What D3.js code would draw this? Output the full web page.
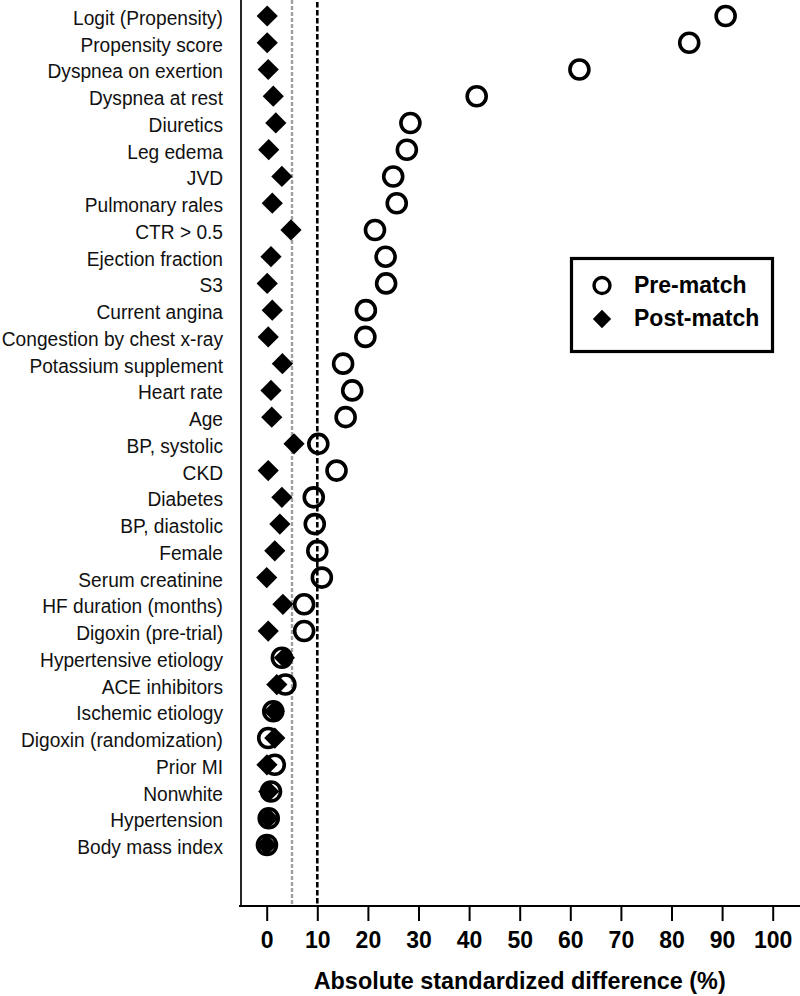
<!DOCTYPE html>
<html>
<head>
<meta charset="utf-8">
<script src="https://cdn.jsdelivr.net/npm/d3@7"></script>
<style>
  html, body { margin: 0; padding: 0; background: #fff; }
  svg { display: block; font-family: "Liberation Sans", Arial, Helvetica, sans-serif; }
</style>
</head>
<body>
<svg id="chart" width="800" height="996"></svg>
<script>
const categories = [
  "Logit (Propensity)", "Propensity score", "Dyspnea on exertion", "Dyspnea at rest",
  "Diuretics", "Leg edema", "JVD", "Pulmonary rales", "CTR > 0.5", "Ejection fraction",
  "S3", "Current angina", "Congestion by chest x-ray", "Potassium supplement",
  "Heart rate", "Age", "BP, systolic", "CKD", "Diabetes", "BP, diastolic", "Female",
  "Serum creatinine", "HF duration (months)", "Digoxin (pre-trial)",
  "Hypertensive etiology", "ACE inhibitors", "Ischemic etiology",
  "Digoxin (randomization)", "Prior MI", "Nonwhite", "Hypertension", "Body mass index"
];
const preMatch = [90.7, 83.5, 61.8, 41.5, 28.4, 27.7, 25.0, 25.7, 21.4, 23.5, 23.6, 19.6,
  19.5, 15.1, 16.9, 15.6, 10.2, 13.8, 9.3, 9.5, 10.0, 10.9, 7.4, 7.4, 3.0, 3.7, 1.3, 0.3,
  1.6, 0.85, 0.4, 0.05];
const postMatch = [0.1, 0.1, 0.3, 1.3, 1.8, 0.4, 3.0, 1.1, 4.8, 0.85, 0.1, 1.1, 0.3, 3.1,
  0.85, 1.0, 5.4, 0.3, 3.0, 2.6, 1.6, 0.0, 3.2, 0.3, 3.5, 2.0, 1.5, 1.6, 0.05, 0.4, 0.3, 0.0];
const xTicks = [0, 10, 20, 30, 40, 50, 60, 70, 80, 90, 100];
const refLines = [5, 10];
const legendItems = ["Pre-match", "Post-match"];
const xTitle = "Absolute standardized difference (%)";

const svg = d3.select("#chart");
const x = d3.scaleLinear().domain([0, 100]).range([266.7, 772.7]);
const y = d3.scalePoint().domain(categories).range([16, 845]).padding(0);
const axisY = 906;
const axisX = 241;

// reference lines
svg.append("line").attr("x1", x(refLines[0])).attr("x2", x(refLines[0]))
  .attr("y1", 0).attr("y2", axisY)
  .attr("stroke", "#a0a0a0").attr("stroke-width", 2.4).attr("stroke-dasharray", "4,2");
svg.append("line").attr("x1", x(refLines[1])).attr("x2", x(refLines[1]))
  .attr("y1", 2).attr("y2", axisY)
  .attr("stroke", "#000").attr("stroke-width", 2.6).attr("stroke-dasharray", "5.5,2.5");

// y axis line
svg.append("line").attr("x1", axisX).attr("x2", axisX).attr("y1", 0).attr("y2", axisY)
  .attr("stroke", "#000").attr("stroke-width", 1.7);

// x axis
const xAxis = d3.axisBottom(x).tickValues(xTicks).tickSize(15).tickPadding(8).tickFormat(d3.format("d"));
const gx = svg.append("g").attr("transform", `translate(0,${axisY})`).call(xAxis);
gx.select(".domain").remove();
gx.append("line").attr("x1", 239).attr("x2", 800).attr("y1", 0).attr("y2", 0)
  .attr("stroke", "#000").attr("stroke-width", 2);
gx.selectAll(".tick line").attr("stroke", "#000").attr("stroke-width", 2);
gx.selectAll(".tick text").attr("fill", "#000").attr("font-size", 23).attr("font-weight", "bold")
  .attr("font-family", "'Liberation Sans', Arial, sans-serif").attr("dy", 0).attr("y", 42);

svg.append("text").attr("x", (x(0) + x(100)) / 2).attr("y", 989)
  .attr("text-anchor", "middle").attr("font-size", 23.4).attr("font-weight", "bold")
  .text(xTitle);

// category labels
svg.append("g").selectAll("text").data(categories).join("text")
  .attr("transform", d => `translate(223,${y(d) + 9}) scale(0.912,1)`)
  .attr("text-anchor", "end").attr("font-size", 21).attr("fill", "#111")
  .text(d => d);

// markers
const diamond = d3.symbol().type(d3.symbolSquare).size(15 * 15);
svg.append("g").selectAll("path").data(categories).join("path")
  .attr("d", diamond)
  .attr("transform", (d, i) => `translate(${x(postMatch[i])},${y(d)}) rotate(45)`)
  .attr("fill", "#000");
svg.append("g").selectAll("circle").data(categories).join("circle")
  .attr("cx", (d, i) => x(preMatch[i])).attr("cy", d => y(d)).attr("r", 9.5)
  .attr("fill", "none").attr("stroke", "#000").attr("stroke-width", 3.6);

// legend
const lg = svg.append("g");
lg.append("rect").attr("x", 571.5).attr("y", 258.5).attr("width", 201).attr("height", 93)
  .attr("fill", "#fff").attr("stroke", "#000").attr("stroke-width", 3.2);
lg.append("circle").attr("cx", 602).attr("cy", 285.5).attr("r", 8)
  .attr("fill", "none").attr("stroke", "#000").attr("stroke-width", 3.4);
lg.append("path").attr("d", d3.symbol().type(d3.symbolSquare).size(13 * 13))
  .attr("transform", "translate(602,319) rotate(45)").attr("fill", "#000");
lg.selectAll("text").data(legendItems).join("text")
  .attr("x", 634).attr("y", (d, i) => 292.5 + i * 33.5)
  .attr("font-size", 23).attr("font-weight", "bold").text(d => d);
</script>
</body>
</html>
